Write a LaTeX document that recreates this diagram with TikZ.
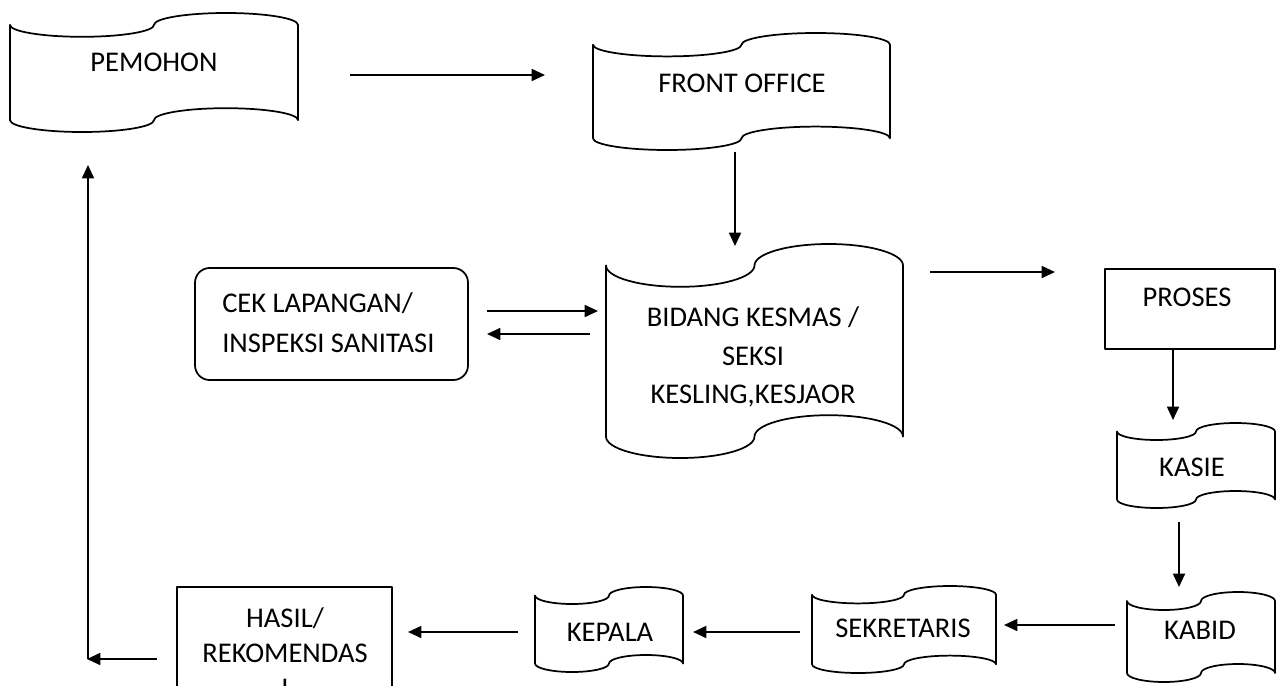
\documentclass[tikz,border=0pt]{standalone}
\usepackage{fontspec}
\setmainfont{Carlito}
\usetikzlibrary{arrows.meta}

\tikzset{
  shapeline/.style={line width=1.3pt, line join=round},
  arr/.style={line width=1.3pt, -{Triangle[length=10pt,width=9pt]}},
  lbl/.style={inner sep=0pt, align=center, font=\fontsize{21.4pt}{28.5pt}\selectfont},
}

% punched-tape outline: x1, x2, ytop (peak), ybot (lowest dip), pixel units, y downwards
\newcommand{\tapeshape}[4]{%
  \pgfmathsetmacro\tpA{0.1*(#4-#3)}%
  \pgfmathsetmacro\tpR{(#2-#1)/4}%
  \pgfmathsetmacro\tpKA{0.5523*\tpA}%
  \pgfmathsetmacro\tpKR{0.5523*\tpR}%
  \pgfmathsetmacro\tpYe{#3+\tpA}%
  \pgfmathsetmacro\tpYb{#4-\tpA}%
  \draw[shapeline] (#1,\tpYe)
    .. controls +(0,\tpKA) and +(-\tpKR,0) .. ++(\tpR,\tpA)
    .. controls +(\tpKR,0) and +(0,\tpKA) .. ++(\tpR,-\tpA)
    .. controls +(0,-\tpKA) and +(-\tpKR,0) .. ++(\tpR,-\tpA)
    .. controls +(\tpKR,0) and +(0,-\tpKA) .. ++(\tpR,\tpA)
    -- (#2,\tpYb)
    .. controls +(0,-\tpKA) and +(\tpKR,0) .. ++(-\tpR,-\tpA)
    .. controls +(-\tpKR,0) and +(0,-\tpKA) .. ++(-\tpR,\tpA)
    .. controls +(0,\tpKA) and +(\tpKR,0) .. ++(-\tpR,\tpA)
    .. controls +(-\tpKR,0) and +(0,\tpKA) .. ++(-\tpR,-\tpA)
    -- cycle;
}

\begin{document}
\begin{tikzpicture}[x=0.75pt, y=-0.75pt]
\useasboundingbox (0,0) rectangle (1277,685);
\clip (0,0) rectangle (1277,685);

% shapes
\tapeshape{10}{298}{13}{132}
\tapeshape{593}{890}{33}{150}
\tapeshape{606}{903}{244}{458}
\tapeshape{1117}{1275}{423}{508}
\tapeshape{1127}{1275}{592}{682}
\tapeshape{812}{996}{586}{673}
\tapeshape{535}{683}{587}{672}
\draw[shapeline, rounded corners=11pt] (195,268) rectangle (468,380);
\draw[shapeline] (1105,269) rectangle (1275,349);
\draw[shapeline] (177,587) rectangle (392,740);

% texts
\node[lbl] (pem) at (154,62) {PEMOHON};
\node[lbl] (fo) at (742,83) {FRONT OFFICE};
\node[lbl, font=\fontsize{21.4pt}{29pt}\selectfont] (bid) at (753,357) {BIDANG KESMAS /\\SEKSI\\KESLING,KESJAOR};
\node[lbl, align=left, anchor=west, font=\fontsize{21.4pt}{30pt}\selectfont] (cek) at (222,323) {CEK LAPANGAN/\\INSPEKSI SANITASI};
\node[lbl] (pro) at (1187,297) {PROSES};
\node[lbl] (kas) at (1192,467) {KASIE};
\node[lbl] (kab) at (1200,630) {KABID};
\node[lbl] (sek) at (903,628) {SEKRETARIS};
\node[lbl] (kep) at (610,632) {KEPALA};
\node[lbl, font=\fontsize{21.4pt}{26.3pt}\selectfont, anchor=north] (has) at (285,607) {HASIL/\\REKOMENDAS\\I};

% connector end points
\coordinate (p1) at (350,75);   \coordinate (p2) at (545,75);
\coordinate (f1) at (735,152);  \coordinate (f2) at (735,246);
\coordinate (c1) at (487,311);  \coordinate (c2) at (598,311);
\coordinate (b1) at (590,334);  \coordinate (b2) at (487,334);
\coordinate (r1) at (930,272);  \coordinate (r2) at (1055,272);
\coordinate (s1) at (1173,350); \coordinate (s2) at (1173,420);
\coordinate (k1) at (1179,522); \coordinate (k2) at (1179,587);
\coordinate (d1) at (1115,625); \coordinate (d2) at (1004,625);
\coordinate (e1) at (800,632);  \coordinate (e2) at (693,632);
\coordinate (g1) at (518,632);  \coordinate (g2) at (408,632);
\coordinate (h1) at (157,659);  \coordinate (h2) at (87,659);
\coordinate (u1) at (88,659);   \coordinate (u2) at (88,165);

\draw[arr] (p1) -- (p2);
\draw[arr] (f1) -- (f2);
\draw[arr] (c1) -- (c2);
\draw[arr] (b1) -- (b2);
\draw[arr] (r1) -- (r2);
\draw[arr] (s1) -- (s2);
\draw[arr] (k1) -- (k2);
\draw[arr] (d1) -- (d2);
\draw[arr] (e1) -- (e2);
\draw[arr] (g1) -- (g2);
\draw[arr] (h1) -- (h2);
\draw[arr] (u1) -- (u2);
\end{tikzpicture}
\end{document}
